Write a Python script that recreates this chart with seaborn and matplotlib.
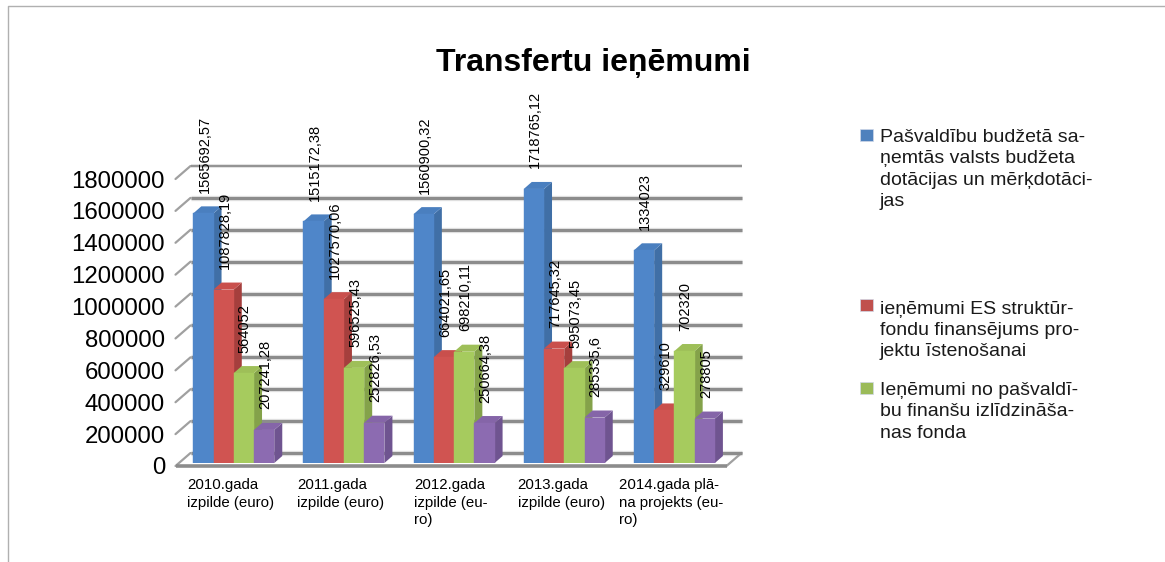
import matplotlib
matplotlib.use('Agg')
import pandas as pd
import matplotlib.pyplot as plt
import seaborn as sns
from matplotlib.lines import Line2D
from matplotlib.patches import Polygon, Rectangle
from matplotlib.transforms import ScaledTranslation

years = ['2010.gada\nizpilde (euro)', '2011.gada\nizpilde (euro)', '2012.gada\nizpilde (eu-\nro)',
         '2013.gada\nizpilde (euro)', '2014.gada plā-\nna projekts (eu-\nro)']
valsts = [1565692.57, 1515172.38, 1560900.32, 1718765.12, 1334023]
es_fondi = [1087828.19, 1027570.06, 664021.65, 717645.32, 329610]
izlidzinasana = [564052, 596525.43, 698210.11, 595073.45, 702320]
citi = [207241.28, 252826.53, 250664.38, 285335.6, 278805]
yticks = [0, 200000, 400000, 600000, 800000, 1000000, 1200000, 1400000, 1600000, 1800000]

legend_labels = ['Pašvaldību budžetā sa-\nņemtās valsts budžeta\ndotācijas un mērķdotāci-\njas',
                 'ieņēmumi ES struktūr-\nfondu finansējums pro-\njektu īstenošanai',
                 'Ieņēmumi no pašvaldī-\nbu finanšu izlīdzināša-\nnas fonda']

front = ['#4f86c9', '#d05451', '#a6cb5e', '#8c6bb1']
side = ['#406fa6', '#a53f3d', '#84a24a', '#6f5490']
top = ['#4a7fbf', '#c94f4c', '#9ebf58', '#8565a8']
swatch = ['#4f81bd', '#c0504d', '#9bbb59']

sns.set_theme(style='white')
plt.rcParams['font.family'] = ['Liberation Sans', 'DejaVu Sans']

W, H = 1165, 562
fig = plt.figure(figsize=(W / 100, H / 100), dpi=100)


def box(left, right, bottom, upper):
    return [left / W, 1 - bottom / H, (right - left) / W, (bottom - upper) / H]


# front plane of the fake 3D box holds the axis, bars sit slightly behind it
ax = fig.add_axes(box(175.5, 726.5, 466, 179))
ax.set_xlim(-0.5, 4.5)
ax.set_ylim(0, 1800000)
bar_ax = fig.add_axes(box(178.7, 729.5, 463, 176))
bar_ax.patch.set_alpha(0)

df = pd.DataFrame({'gads': years, 'valsts': valsts, 'es': es_fondi, 'izl': izlidzinasana, 'citi': citi})
long_df = df.melt(id_vars='gads', var_name='avots', value_name='summa')
sns.barplot(data=long_df, x='gads', y='summa', hue='avots', palette=front, saturation=1,
            gap=0, width=0.735, legend=False, ax=bar_ax)
bar_ax.set_xlim(-0.5, 4.5)
bar_ax.set_ylim(0, 1800000)
bar_ax.axis('off')

# walls and gridlines
wall = ScaledTranslation(15 / 100, 13 / 100, fig.dpi_scale_trans)
back = ax.transData + wall
xa, xb = ax.get_xlim()


def depth_line(x, y):
    # short diagonal going back from the front plane, in pixels
    px, py = ax.transData.transform((x, y))
    ax.add_line(Line2D([px, px + 15], [py, py + 13], color='#a0a0a0', lw=1.6, clip_on=False, zorder=1.1,
                       transform=None))


for t in yticks:
    w = 1.3 if t == 1800000 else 2.2
    ax.plot([xa, xb], [t, t], transform=back, color='#e2e2e2', lw=w + 1.6, clip_on=False, zorder=1,
            solid_capstyle='butt')
    ax.plot([xa, xb], [t, t], transform=back, color='#8c8c8c', lw=w, clip_on=False, zorder=1.2,
            solid_capstyle='butt')
    depth_line(xa, t)

depth_line(xb, 0)
ax.plot([xa, xb], [0, 0], color='#8c8c8c', lw=2.6, clip_on=False, zorder=1.3, solid_capstyle='butt')
ax.set_xlim(xa, xb)
ax.set_ylim(0, 1800000)

ax.set_yticks(yticks)
ax.set_yticklabels([str(t) for t in yticks], fontsize=17.3, color='black')
ax.set_xticks(range(5))
ax.set_xticklabels(years, fontsize=10.8, color='black', ha='center', multialignment='left', linespacing=1.28)
ax.tick_params(axis='both', length=0)
ax.tick_params(axis='y', pad=7.5)
ax.tick_params(axis='x', pad=9)
for s in ax.spines.values():
    s.set_visible(False)

# depth faces and value labels, built from the bars seaborn drew
inv = bar_ax.transData.inverted()
dx, dy = inv.transform((8, 7)) - inv.transform((0, 0))
for i, bar in enumerate(bar_ax.patches[:20]):
    s = i // 5
    k = i % 5
    order = k * 10 + s * 2 + 2
    x0, x1 = bar.get_x(), bar.get_x() + bar.get_width()
    h = bar.get_height()
    bar.set_zorder(order + 1)
    bar.set_edgecolor(front[s])
    bar.set_linewidth(0.3)
    bar_ax.add_patch(Polygon([(x1, 0), (x1 + dx, dy), (x1 + dx, h + dy), (x1, h)], fc=side[s], ec='none', zorder=order))
    bar_ax.add_patch(Polygon([(x0, h), (x0 + dx, h + dy), (x1 + dx, h + dy), (x1, h)], fc=top[s], ec='none', zorder=order))
    txt = f'{h:.2f}'.rstrip('0').rstrip('.').replace('.', ',')
    bar_ax.annotate(txt, ((x0 + x1) / 2, h), xytext=(0.7, 20.5 * 0.72), textcoords='offset points',
                    rotation=90, ha='center', va='bottom', fontsize=10.5, color='black',
                    annotation_clip=False, zorder=100)

fig.text(593.5 / W, 1 - 63 / H, 'Transfertu ieņēmumi', fontsize=23, fontweight='bold', ha='center',
         va='center', color='black')

# legend, it only lists three of the four series in the original
for lab, col, sw_top, ytop in zip(legend_labels, swatch, [129, 299, 382], [129, 300.5, 382]):
    fig.patches.append(Rectangle((860 / W, 1 - (sw_top + 12) / H), 12.5 / W, 12 / H, transform=fig.transFigure,
                                 fc=col, ec='#d0d8e8', lw=0.5))
    fig.text(880 / W, 1 - ytop / H, lab, fontsize=14, va='top', ha='left', color='#1a1a1a', linespacing=1.34)

# frame around the chart
fig.add_artist(Line2D([8 / W, 8 / W, 1], [0, 1 - 6 / H, 1 - 6 / H], color='#b0b0b0', lw=1.0))

fig.savefig('out.png', dpi=100)
